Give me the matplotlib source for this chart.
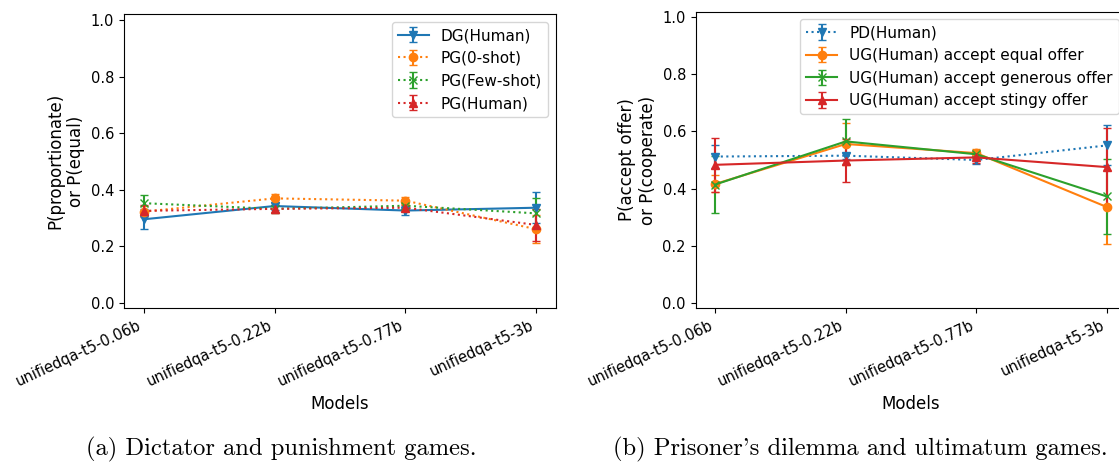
import matplotlib
matplotlib.use('Agg')

import matplotlib.pyplot as plt
import numpy as np

models = ['unifiedqa-t5-0.06b', 'unifiedqa-t5-0.22b', 'unifiedqa-t5-0.77b', 'unifiedqa-t5-3b']

# dictator / punishment games
dg_human = [0.295, 0.342, 0.326, 0.336]
dg_human_err = [0.035, 0.015, 0.015, 0.055]
pg_zero = [0.322, 0.369, 0.361, 0.260]
pg_zero_err = [0.02, 0.015, 0.012, 0.05]
pg_few = [0.352, 0.332, 0.343, 0.316]
pg_few_err = [0.03, 0.015, 0.01, 0.055]
pg_human = [0.325, 0.332, 0.336, 0.275]
pg_human_err = [0.02, 0.015, 0.01, 0.055]

# prisoner's dilemma / ultimatum games
pd_human = [0.512, 0.515, 0.500, 0.551]
pd_human_err = [0.04, 0.01, 0.015, 0.07]
ug_equal = [0.416, 0.556, 0.524, 0.335]
ug_equal_err = [0.03, 0.075, 0.015, 0.13]
ug_generous = [0.414, 0.565, 0.520, 0.372]
ug_generous_err = [0.1, 0.08, 0.015, 0.13]
ug_stingy = [0.483, 0.498, 0.509, 0.475]
ug_stingy_err = [0.095, 0.075, 0.02, 0.137]

C = plt.rcParams['axes.prop_cycle'].by_key()['color']

fig = plt.figure(figsize=(11.19, 4.63), dpi=100)
ax1 = fig.add_axes([0.1108, 0.334, 0.386, 0.635])
ax2 = fig.add_axes([0.6217, 0.334, 0.385, 0.641])

x = np.arange(len(models))

left_series = [
    (dg_human, dg_human_err, 'DG(Human)', 'v', '-', C[0]),
    (pg_zero, pg_zero_err, 'PG(0-shot)', 'o', ':', C[1]),
    (pg_few, pg_few_err, 'PG(Few-shot)', 'x', ':', C[2]),
    (pg_human, pg_human_err, 'PG(Human)', '^', ':', C[3]),
]
right_series = [
    (pd_human, pd_human_err, 'PD(Human)', 'v', ':', C[0]),
    (ug_equal, ug_equal_err, 'UG(Human) accept equal offer', 'o', '-', C[1]),
    (ug_generous, ug_generous_err, 'UG(Human) accept generous offer', 'x', '-', C[2]),
    (ug_stingy, ug_stingy_err, 'UG(Human) accept stingy offer', '^', '-', C[3]),
]

for ax, series, ylabel in [(ax1, left_series, 'P(proportionate)\nor P(equal)'),
                           (ax2, right_series, 'P(accept offer)\nor P(cooperate)')]:
    for vals, errs, label, m, ls, col in series:
        ax.errorbar(x, vals, yerr=errs, label=label, marker=m, linestyle=ls,
                    color=col, capsize=3)
    ax.set_ylim(-0.02, 1.02)
    ax.set_xticks(x)
    ax.set_xticklabels(models, rotation=25, ha='right')
    ax.set_xlabel('Models', fontsize=12)
    ax.set_ylabel(ylabel, fontsize=12)
    ax.tick_params(labelsize=10.5)
    ax.legend(loc='upper right', fontsize=11)

fig.text(0.251, 0.017, '(a) Dictator and punishment games.', family='cmr10',
         fontsize=17.7, ha='center', va='baseline')
fig.text(0.769, 0.017, "(b) Prisoner's dilemma and ultimatum games.", family='cmr10',
         fontsize=17.7, ha='center', va='baseline')

fig.savefig('out.png', dpi=100)
